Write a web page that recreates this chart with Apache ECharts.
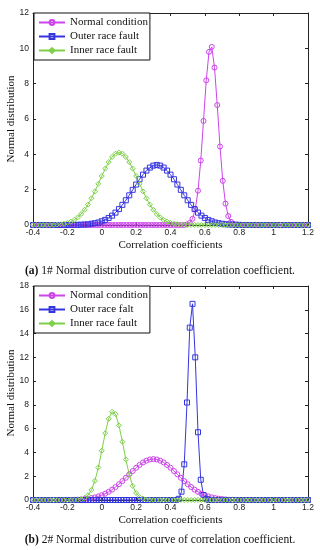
<!DOCTYPE html>
<html><head><meta charset="utf-8">
<script src="https://cdn.jsdelivr.net/npm/echarts@6/dist/echarts.min.js"></script>
<style>html,body{margin:0;padding:0;background:#fff}#c{width:320px;height:550px}</style>
</head><body><div id="c"></div>
<script>
// x grids
const xWide = [
-0.4,-0.38,-0.36,-0.34,-0.32,-0.3,-0.28,-0.26,-0.24,-0.22,
-0.2,-0.18,-0.16,-0.14,-0.12,-0.1,-0.08,-0.06,-0.04,-0.02,
0,0.02,0.04,0.06,0.08,0.1,0.12,0.14,0.16,0.18,
0.2,0.22,0.24,0.26,0.28,0.3,0.32,0.34,0.36,0.38,
0.4,0.42,0.44,0.46,0.48,0.5,0.52,0.54,0.56,0.58,
0.6,0.62,0.64,0.66,0.68,0.7,0.72,0.74,0.76,0.78,
0.8,0.82,0.84,0.86,0.88,0.9,0.92,0.94,0.96,0.98,
1,1.02,1.04,1.06,1.08,1.1,1.12,1.14,1.16,1.18,
1.2];
const xNarrow = [
-0.4,-0.384,-0.368,-0.352,-0.336,-0.32,-0.304,-0.288,-0.272,-0.256,
-0.24,-0.224,-0.208,-0.192,-0.176,-0.16,-0.144,-0.128,-0.112,-0.096,
-0.08,-0.064,-0.048,-0.032,-0.016,0,0.016,0.032,0.048,0.064,
0.08,0.096,0.112,0.128,0.144,0.16,0.176,0.192,0.208,0.224,
0.24,0.256,0.272,0.288,0.304,0.32,0.336,0.352,0.368,0.384,
0.4,0.416,0.432,0.448,0.464,0.48,0.496,0.512,0.528,0.544,
0.56,0.576,0.592,0.608,0.624,0.64,0.656,0.672,0.688,0.704,
0.72,0.736,0.752,0.768,0.784,0.8,0.816,0.832,0.848,0.864,
0.88,0.896,0.912,0.928,0.944,0.96,0.976,0.992,1.008,1.024,
1.04,1.056,1.072,1.088,1.104,1.12,1.136,1.152,1.168,1.184,
1.2];

// (a) chart 1#
const topNormal = [ // on xNarrow
0,0,0,0,0,0,0,0,0,0,
0,0,0,0,0,0,0,0,0,0,
0,0,0,0,0,0,0,0,0,0,
0,0,0,0,0,0,0,0,0,0,
0,0,0,0,0,0,0,0,0,0,
0,0,0,0,0,0,0.03,0.12,0.35,0.89,
1.94,3.65,5.89,8.19,9.80,10.08,8.91,6.79,4.44,2.50,
1.21,0.51,0.18,0.06,0.02,0,0,0,0,0,
0,0,0,0,0,0,0,0,0,0,
0,0,0,0,0,0,0,0,0,0,
0];
const topOuter = [ // on xWide
0,0,0,0,0,0,0,0,0,0,
0,0,0.01,0.01,0.02,0.03,0.04,0.07,0.10,0.14,
0.21,0.29,0.40,0.53,0.70,0.90,1.14,1.40,1.68,1.99,
2.29,2.59,2.85,3.08,3.25,3.36,3.40,3.36,3.25,3.08,
2.85,2.59,2.29,1.99,1.68,1.40,1.14,0.90,0.70,0.53,
0.40,0.29,0.21,0.14,0.10,0.07,0.04,0.03,0.02,0.01,
0.01,0,0,0,0,0,0,0,0,0,
0,0,0,0,0,0,0,0,0,0,
0];
const topInner = [ // on xWide
0,0,0,0,0,0.01,0.01,0.03,0.04,0.07,
0.12,0.19,0.29,0.43,0.62,0.86,1.15,1.51,1.90,2.33,
2.77,3.19,3.56,3.85,4.04,4.10,4.04,3.85,3.56,3.19,
2.77,2.33,1.90,1.51,1.15,0.86,0.62,0.43,0.29,0.19,
0.12,0.07,0.04,0.03,0.01,0.01,0,0,0,0,
0,0,0,0,0,0,0,0,0,0,
0,0,0,0,0,0,0,0,0,0,
0,0,0,0,0,0,0,0,0,0,
0];

// (b) chart 2#
const botNormal = [ // on xWide
0,0,0,0,0,0,0,0,0,0,
0.01,0.01,0.02,0.03,0.05,0.08,0.11,0.16,0.22,0.30,
0.40,0.53,0.69,0.87,1.09,1.33,1.59,1.87,2.16,2.44,
2.71,2.95,3.16,3.31,3.41,3.44,3.41,3.31,3.16,2.95,
2.71,2.44,2.16,1.87,1.59,1.33,1.09,0.87,0.69,0.53,
0.40,0.30,0.22,0.16,0.11,0.08,0.05,0.03,0.02,0.01,
0.01,0,0,0,0,0,0,0,0,0,
0,0,0,0,0,0,0,0,0,0,
0];
const botOuter = [ // on xNarrow
0,0,0,0,0,0,0,0,0,0,
0,0,0,0,0,0,0,0,0,0,
0,0,0,0,0,0,0,0,0,0,
0,0,0,0,0,0,0,0,0,0,
0,0,0,0,0,0,0,0,0,0,
0,0,0,0.10,0.70,3.0,8.2,14.5,16.5,12.0,
5.7,1.7,0.42,0.08,0,0,0,0,0,0,
0,0,0,0,0,0,0,0,0,0,
0,0,0,0,0,0,0,0,0,0,
0,0,0,0,0,0,0,0,0,0,
0];
const botInner = [ // on xWide
0,0,0,0,0,0,0,0,0,0,
0,0,0.01,0.02,0.06,0.17,0.40,0.85,1.61,2.73,
4.14,5.62,6.83,7.42,7.22,6.28,4.90,3.41,2.13,1.19,
0.59,0.26,0.11,0.04,0.01,0,0,0,0,0,
0,0,0,0,0,0,0,0,0,0,
0,0,0,0,0,0,0,0,0,0,
0,0,0,0,0,0,0,0,0,0,
0,0,0,0,0,0,0,0,0,0,
0];

const namesA = ['Normal condition','Outer race fault','Inner race fault'];
const namesB = ['Normal condition','Outer race falt','Inner race fault'];
const xTicks = [-0.4,-0.2,0,0.2,0.4,0.6,0.8,1,1.2];
const yMaxA = 12, yMaxB = 18, yStep = 2;
const captionA = '{b|(a)} 1# Normal distribution curve of correlation coefficient.';
const captionB = '{b|(b)} 2# Normal distribution curve of correlation coefficient.';
const xName = 'Correlation coefficients', yName = 'Normal distribution';

const C_M = '#cc44ea', C_B = '#3535e0', C_G = '#7cd048';
const SERIF = 'Liberation Serif', SANS = 'Liberation Sans';

function pairs(xs, ys){ return xs.map((x,i)=>[x, ys[i]]); }
function mk(name, xs, ys, color, symbol, gi){
  return {name, type:'line', xAxisIndex:gi*2, yAxisIndex:gi*2, data:pairs(xs,ys),
    symbol, symbolSize:5, showSymbol:true, showAllSymbol:true,
    lineStyle:{color, width:1}, itemStyle:{color:'rgba(255,255,255,0)', borderColor:color, borderWidth:1},
    emphasis:{disabled:true}, animation:false};
}
function xAx(gi, bottom){
  const a = {gridIndex:gi, type:'value', min:xTicks[0], max:xTicks[xTicks.length-1], interval:0.2,
    position: bottom?'bottom':'top',
    axisLine:{onZero:false, lineStyle:{color:'#222', width:1}},
    axisTick:{inside:true, length:3, lineStyle:{color:'#222'}},
    axisLabel:{show:bottom, fontSize:8.5, color:'#222', margin:3, fontFamily:SANS},
    splitLine:{show:false}};
  if (bottom){ a.name = xName; a.nameLocation='middle'; a.nameGap=15; a.nameMoveOverlap=false;
    a.nameTextStyle={fontFamily:SERIF, fontSize:11, color:'#111'}; }
  return a;
}
function yAx(gi, left, max){
  const a = {gridIndex:gi, type:'value', min:0, max, interval:yStep,
    position: left?'left':'right',
    axisLine:{onZero:false, lineStyle:{color:'#222', width:1}},
    axisTick:{inside:true, length:3, lineStyle:{color:'#222'}},
    axisLabel:{show:left, fontSize:8.5, color:'#222', margin:4, fontFamily:SANS},
    splitLine:{show:false}};
  if (left){ a.name = yName; a.nameLocation='middle'; a.nameGap=16; a.nameRotate=90; a.nameMoveOverlap=false;
    a.nameTextStyle={fontFamily:SERIF, fontSize:11, color:'#111'}; }
  return a;
}
function legend(names, top){
  return {data:names, orient:'vertical', left:34, top, backgroundColor:'#fff',
    borderColor:'#111', borderWidth:1, borderRadius:0, padding:[3,2,3,4],
    itemWidth:26, itemHeight:6, itemGap:1, selectedMode:false,
    textStyle:{fontFamily:SERIF, fontSize:11, color:'#111', lineHeight:13}};
}
const capStyle = {fontFamily:SERIF, fontSize:11.5, fontWeight:'normal', color:'#111',
  rich:{b:{fontFamily:SERIF, fontSize:11.5, fontWeight:'bold', color:'#111'}}};

const chart = echarts.init(document.getElementById('c'), null, {renderer:'canvas'});
chart.setOption({
  animation:false,
  backgroundColor:'#fff',
  title:[
    {text:captionA, left:'center', top:265, textStyle:capStyle, padding:0},
    {text:captionB, left:'center', top:534, textStyle:capStyle, padding:0}
  ],
  legend:[legend(namesA, 13), legend(namesB, 286)],
  grid:[{left:33, right:12, top:13, height:212, outerBoundsMode:'none', containLabel:false},
        {left:33, right:12, top:286, height:214, outerBoundsMode:'none', containLabel:false}],
  xAxis:[xAx(0,true), xAx(0,false), xAx(1,true), xAx(1,false)],
  yAxis:[yAx(0,true,yMaxA), yAx(0,false,yMaxA), yAx(1,true,yMaxB), yAx(1,false,yMaxB)],
  series:[
    mk(namesA[0], xNarrow, topNormal, C_M, 'circle', 0),
    mk(namesA[1], xWide, topOuter, C_B, 'rect', 0),
    mk(namesA[2], xWide, topInner, C_G, 'diamond', 0),
    mk(namesB[0], xWide, botNormal, C_M, 'circle', 1),
    mk(namesB[1], xNarrow, botOuter, C_B, 'rect', 1),
    mk(namesB[2], xWide, botInner, C_G, 'diamond', 1)
  ]
});
</script></body></html>
